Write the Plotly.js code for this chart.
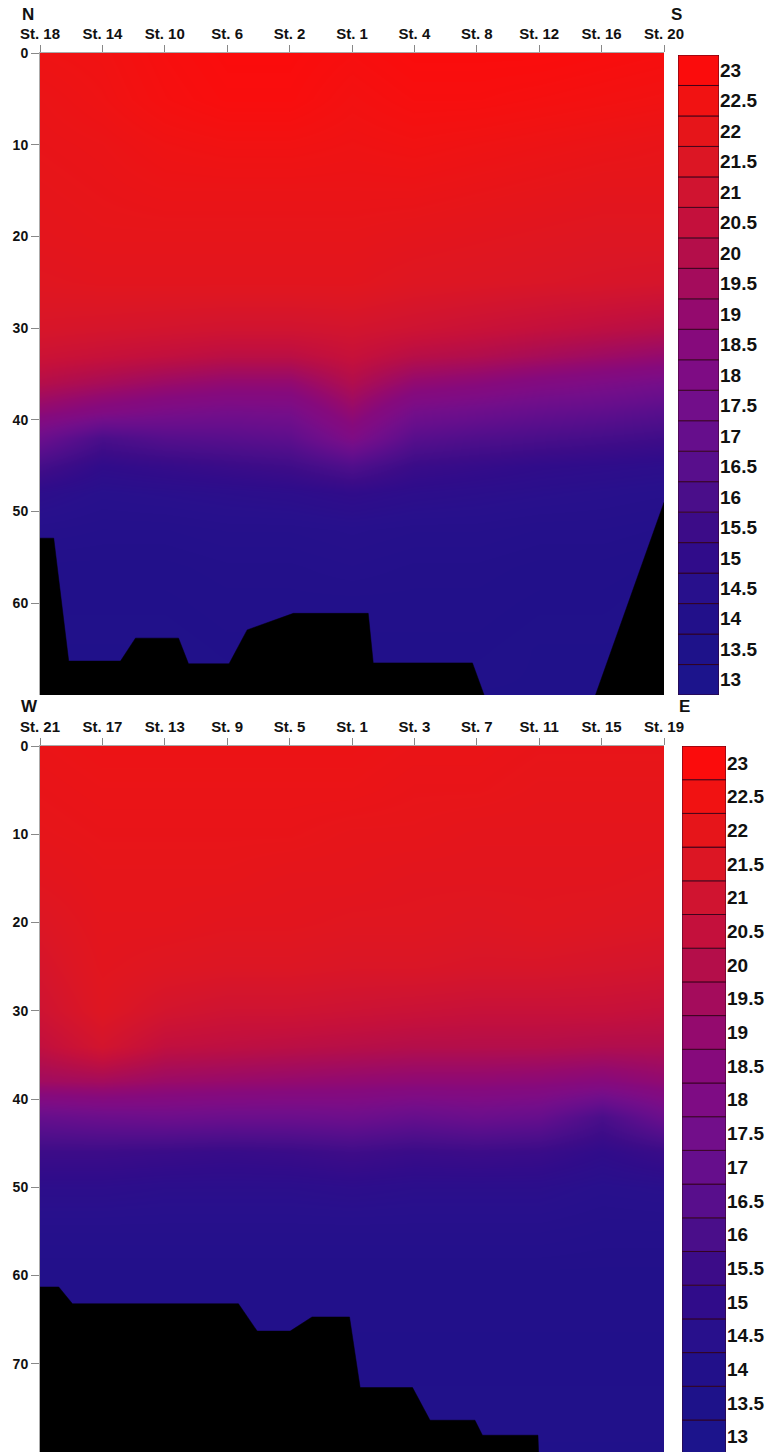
<!DOCTYPE html>
<html>
<head>
<meta charset="utf-8">
<script src="https://cdn.plot.ly/plotly-3.0.1.min.js"></script>
<style>html,body{margin:0;padding:0;background:#fff;}#chart{width:777px;height:1452px;}</style>
</head>
<body>
<div id="chart"></div>
<script>
// ---------- DATA ----------
const stationPos = [0, 1, 2, 3, 4, 5, 6, 7, 8, 9, 10];
const topStations = ['St. 18','St. 14','St. 10','St. 6','St. 2','St. 1','St. 4','St. 8','St. 12','St. 16','St. 20'];
const botStations = ['St. 21','St. 17','St. 13','St. 9','St. 5','St. 1','St. 3','St. 7','St. 11','St. 15','St. 19'];

// N-S section (temperature, rows = depth)
const topDepths = [0, 5, 10, 15, 20, 25, 30, 33, 36, 39, 42, 45, 48, 52, 56, 60, 65, 70];
const topTemp = [
  [22.4, 22.5, 22.8, 23.0, 23.0, 22.8, 23.0, 23.0, 23.0, 22.9, 22.8],
  [22.2, 22.4, 22.7, 22.9, 22.9, 22.6, 22.8, 22.8, 22.7, 22.6, 22.5],
  [22.1, 22.2, 22.4, 22.5, 22.5, 22.4, 22.5, 22.4, 22.3, 22.2, 22.1],
  [22.0, 22.1, 22.2, 22.2, 22.2, 22.2, 22.2, 22.1, 22.0, 21.9, 21.9],
  [21.9, 22.0, 22.0, 22.0, 22.0, 22.0, 21.9, 21.8, 21.7, 21.6, 21.6],
  [21.7, 21.8, 21.8, 21.8, 21.8, 21.8, 21.6, 21.5, 21.4, 21.3, 21.2],
  [21.3, 21.2, 21.1, 21.0, 21.0, 21.1, 20.9, 20.7, 20.5, 20.3, 20.1],
  [20.8, 20.6, 20.4, 20.2, 20.2, 20.6, 20.1, 19.9, 19.6, 19.3, 19.0],
  [20.0, 19.6, 19.2, 18.9, 18.9, 19.9, 18.9, 18.6, 18.2, 17.9, 17.6],
  [18.8, 18.2, 17.8, 17.6, 17.7, 19.0, 17.6, 17.3, 17.0, 16.8, 16.5],
  [17.2, 16.0, 16.4, 16.5, 16.7, 18.0, 16.5, 16.2, 16.0, 15.8, 15.6],
  [15.8, 15.0, 15.2, 15.4, 15.6, 16.2, 15.4, 15.2, 15.0, 14.9, 14.8],
  [14.8, 14.5, 14.6, 14.7, 14.8, 15.0, 14.8, 14.7, 14.6, 14.5, 14.4],
  [14.3, 14.2, 14.2, 14.3, 14.3, 14.4, 14.3, 14.3, 14.2, 14.2, 14.1],
  [14.0, 14.0, 14.0, 14.1, 14.1, 14.2, 14.1, 14.1, 14.0, 14.0, 13.9],
  [13.9, 13.9, 13.9, 14.0, 14.0, 14.0, 14.0, 14.0, 13.9, 13.9, 13.8],
  [13.8, 13.8, 13.8, 13.9, 13.9, 13.9, 13.9, 13.9, 13.8, 13.8, 13.8],
  [13.8, 13.8, 13.8, 13.8, 13.8, 13.8, 13.8, 13.8, 13.8, 13.8, 13.8]
];
const topBedX     = [0, 0.22, 0.46, 1.29, 1.53, 2.22, 2.38, 3.03, 3.32, 4.06, 5.26, 5.34, 6.93, 7.17, 8.85, 10];
const topBedDepth = [52.9, 52.9, 66.3, 66.3, 63.8, 63.8, 66.6, 66.6, 62.9, 61.1, 61.1, 66.5, 66.5, 71, 71, 49];

// W-E section
const botDepths = [0, 5, 10, 15, 20, 25, 30, 34, 38, 42, 46, 50, 55, 60, 70, 80];
const botTemp = [
  [22.2, 22.3, 22.3, 22.3, 22.3, 22.3, 22.2, 22.2, 22.1, 22.1, 22.1],
  [22.1, 22.2, 22.2, 22.2, 22.2, 22.2, 22.1, 22.1, 22.0, 22.0, 22.0],
  [22.0, 22.1, 22.1, 22.1, 22.1, 22.0, 22.0, 21.9, 21.9, 21.9, 21.9],
  [21.8, 22.0, 22.0, 22.0, 21.9, 21.9, 21.8, 21.8, 21.8, 21.8, 21.7],
  [21.5, 21.9, 21.9, 21.8, 21.8, 21.7, 21.7, 21.6, 21.7, 21.6, 21.5],
  [21.2, 21.8, 21.6, 21.5, 21.5, 21.4, 21.4, 21.3, 21.3, 21.2, 21.1],
  [20.9, 21.6, 21.1, 20.9, 20.9, 20.8, 20.7, 20.6, 20.6, 20.6, 20.5],
  [20.4, 21.1, 20.4, 20.3, 20.2, 20.1, 20.0, 20.0, 20.0, 19.9, 19.9],
  [19.4, 19.5, 19.2, 19.1, 19.0, 18.9, 18.8, 18.8, 18.7, 18.5, 18.9],
  [17.0, 17.2, 17.3, 17.2, 17.2, 17.3, 17.0, 17.2, 17.0, 16.0, 17.2],
  [15.5, 15.5, 15.4, 15.3, 15.4, 15.6, 15.4, 15.5, 15.4, 15.0, 15.4],
  [14.8, 14.8, 14.7, 14.7, 14.7, 14.8, 14.7, 14.7, 14.7, 14.5, 14.6],
  [14.3, 14.3, 14.3, 14.3, 14.3, 14.3, 14.3, 14.3, 14.3, 14.2, 14.2],
  [14.0, 14.0, 14.0, 14.0, 14.0, 14.0, 14.0, 14.0, 14.0, 14.0, 14.0],
  [13.9, 13.9, 13.9, 13.9, 13.9, 13.9, 13.9, 13.9, 13.9, 13.9, 13.9],
  [13.8, 13.8, 13.8, 13.8, 13.8, 13.8, 13.8, 13.8, 13.8, 13.8, 13.8]
];
const botBedX     = [0, 0.30, 0.52, 3.18, 3.48, 4.01, 4.36, 4.96, 5.13, 5.97, 6.25, 6.97, 7.09, 7.98, 8.0, 10];
const botBedDepth = [61.3, 61.3, 63.2, 63.2, 66.3, 66.3, 64.7, 64.7, 72.7, 72.7, 76.4, 76.4, 78.1, 78.1, 82, 82];

// legend levels and their colours
const levels = [13, 13.5, 14, 14.5, 15, 15.5, 16, 16.5, 17, 17.5, 18, 18.5, 19, 19.5, 20, 20.5, 21, 21.5, 22, 22.5, 23];
const levelColors = ['#1c148c','#1e128a','#22108a','#28108c','#300c8a','#3c0c88','#4a0e8a','#580e8c','#660e8c','#720e8a',
                     '#7e0c84','#860a7c','#940a6e','#a40c5c','#b40e4a','#c4103c','#d01430','#dc1624','#e6151a','#f11212','#fb0c0c'];

// ---------- BUILD ----------
const zmin = levels[0], zmax = levels[levels.length - 1];
const colorscale = levels.map((l, i) => [(l - zmin) / (zmax - zmin), levelColors[i]]);
const W = 777, H = 1452;
const fy = px => 1 - px / H, fx = px => px / W;
const FONT = 'Liberation Sans, Arial, Helvetica, sans-serif';

function bedPolygon(xs, ds, xref, yref) {
  const floor = Math.max(...ds) + 20;
  return {
    type: 'scatter', mode: 'lines', x: xs.concat([xs[xs.length - 1], xs[0]]),
    y: ds.concat([floor, floor]), fill: 'toself', fillcolor: '#000',
    line: {color: '#000', width: 0.5}, xaxis: xref, yaxis: yref, hoverinfo: 'skip', showlegend: false
  };
}
function legendBars(xref, yref) {
  return {
    type: 'bar', x: levels.map(() => 0), y: levels.map(() => 1), base: levels.map((l, i) => i),
    width: 1, marker: {color: levelColors, line: {color: 'rgba(50,0,25,0.85)', width: 1}},
    xaxis: xref, yaxis: yref, showlegend: false, hoverinfo: 'skip'
  };
}

const traces = [
  {type: 'heatmap', x: stationPos, y: topDepths, z: topTemp, zmin, zmax, colorscale, zsmooth: 'best',
   showscale: false, xaxis: 'x', yaxis: 'y'},
  bedPolygon(topBedX, topBedDepth, 'x', 'y'),
  {type: 'heatmap', x: stationPos, y: botDepths, z: botTemp, zmin, zmax, colorscale, zsmooth: 'best',
   showscale: false, xaxis: 'x2', yaxis: 'y2'},
  bedPolygon(botBedX, botBedDepth, 'x2', 'y2'),
  legendBars('x3', 'y3'),
  legendBars('x4', 'y4')
];

const tickFontX = {family: FONT, size: 15, color: '#111', weight: 'bold'};
const tickFontY = {family: FONT, size: 14, color: '#111', weight: 'bold'};
const legFont = {family: FONT, size: 19, color: '#111', weight: 'bold'};

function xAx(anchor, text) {
  return {domain: [fx(40), fx(664)], range: [0, 10], anchor, side: 'top', tickmode: 'array',
    tickvals: stationPos, ticktext: text, ticks: 'outside', ticklen: 7, tickcolor: '#888', tickwidth: 1,
    showgrid: false, zeroline: false, showline: true, linecolor: '#aaa', linewidth: 1, tickfont: tickFontX, fixedrange: true};
}
function yAx(anchor, domain, range, vals) {
  return {domain, range, anchor, tickmode: 'array', tickvals: vals, ticks: 'outside', ticklen: 8,
    tickcolor: '#888', tickwidth: 1, showgrid: false, zeroline: false, showline: true, linecolor: '#aaa',
    linewidth: 1, tickfont: tickFontY, fixedrange: true};
}
function legY(anchor, domain, range) {
  return {domain, range, anchor, side: 'right', tickmode: 'array', tickvals: levels.map((l, i) => i + 0.5),
    ticktext: levels.map(String), ticks: '', showgrid: false, zeroline: false, showline: false,
    tickfont: legFont, fixedrange: true};
}
const hiddenX = (domain, anchor) => ({domain, anchor, range: [-0.5, 0.5], visible: false, fixedrange: true});

const layout = {
  width: W, height: H, margin: {l: 0, r: 0, t: 0, b: 0},
  paper_bgcolor: '#fff', plot_bgcolor: '#fff', bargap: 0, showlegend: false,
  xaxis: xAx('y', topStations),
  yaxis: yAx('x', [fy(695), fy(53)], [70, 0], [0, 10, 20, 30, 40, 50, 60]),
  xaxis2: xAx('y2', botStations),
  yaxis2: yAx('x2', [0, fy(746)], [80, 0], [0, 10, 20, 30, 40, 50, 60, 70]),
  xaxis3: hiddenX([fx(678), fx(719)], 'y3'),
  yaxis3: legY('x3', [fy(695), fy(55)], [0, 21]),
  xaxis4: hiddenX([fx(682), fx(726)], 'y4'),
  yaxis4: legY('x4', [0, fy(746)], [0.05, 21]),
  annotations: [
    {text: 'N', x: fx(28), y: fy(14)},
    {text: 'S', x: fx(676), y: fy(14)},
    {text: 'W', x: fx(29), y: fy(707)},
    {text: 'E', x: fx(684), y: fy(707)}
  ].map(a => Object.assign(a, {xref: 'paper', yref: 'paper', showarrow: false, xanchor: 'center', yanchor: 'middle',
    font: {family: FONT, size: 17, color: '#111', weight: 'bold'}}))
};

Plotly.newPlot('chart', traces, layout, {staticPlot: true, displayModeBar: false});
</script>
</body>
</html>
